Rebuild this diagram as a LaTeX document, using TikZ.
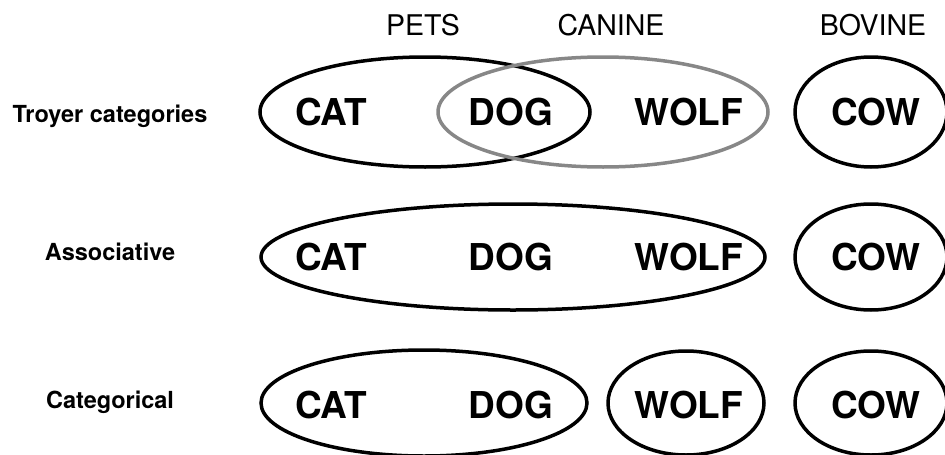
\documentclass[tikz,border=0pt]{standalone}
\usepackage{fontspec}
\setmainfont{TeX Gyre Heros}
\usetikzlibrary{shapes.geometric}

\begin{document}
\begin{tikzpicture}[x=1pt,y=-1pt,
  word/.style={font=\fontsize{37}{37}\selectfont\bfseries, anchor=base},
  head/.style={font=\fontsize{28.5}{28.5}\selectfont, anchor=base},
  rowlabel/.style={font=\fontsize{23.5}{23.5}\selectfont\bfseries, anchor=base},
  set/.style={draw, ellipse, line width=3.5pt, inner sep=0pt},
  graysets/.style={set, draw=black!47}]
\useasboundingbox (0,0) rectangle (945,455);
\clip (0,0) rectangle (945,455);
% headers
\node[head] (pets) at (423,35) {PETS};
\node[head] (canine) at (611,35) {CANINE};
\node[head] (bovine) at (873,35) {BOVINE};
% row labels
\node[rowlabel] (troyer) at (110,122) {Troyer categories};
\node[rowlabel] (assoc) at (110,260) {Associative};
\node[rowlabel] (categ) at (110,408) {Categorical};
% Troyer categories
\node[set, minimum width=330pt, minimum height=110pt] (petset) at (425,112) {};
\node[graysets, minimum width=330pt, minimum height=110pt] (canset) at (603,112) {};
\node[set, minimum width=152pt, minimum height=110pt] (bovset) at (871,112) {};
\node[word] (catA) at (331,125) {CAT};
\node[word] (dogA) at (511,125) {DOG};
\node[word] (wolfA) at (689,125) {WOLF};
\node[word] (cowA) at (876,125) {COW};
% Associative
\node[set, minimum width=504pt, minimum height=106pt] (assocset) at (513,257) {};
\node[set, minimum width=152pt, minimum height=106pt] (cowsetB) at (871,257) {};
\node[word] (catB) at (331,270) {CAT};
\node[word] (dogB) at (511,270) {DOG};
\node[word] (wolfB) at (689,270) {WOLF};
\node[word] (cowB) at (876,270) {COW};
% Categorical
\node[set, minimum width=326pt, minimum height=106pt] (petsetC) at (424,403) {};
\node[set, minimum width=156pt, minimum height=104pt] (wolfsetC) at (686,403) {};
\node[set, minimum width=152pt, minimum height=104pt] (cowsetC) at (871,403) {};
\node[word] (catC) at (331,418) {CAT};
\node[word] (dogC) at (511,418) {DOG};
\node[word] (wolfC) at (689,418) {WOLF};
\node[word] (cowC) at (876,418) {COW};
\end{tikzpicture}
\end{document}
